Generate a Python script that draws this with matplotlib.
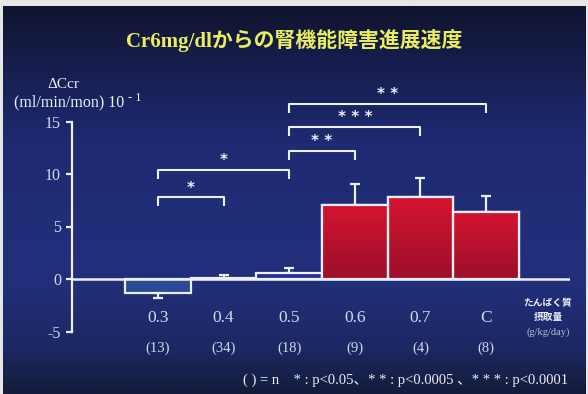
import matplotlib

matplotlib.use("Agg")
import matplotlib.pyplot as plt
import numpy as np
from matplotlib.colors import LinearSegmentedColormap

# protein intake groups (g/kg/day) and the change in Ccr per group
groups = ["0.3", "0.4", "0.5", "0.6", "0.7", "C"]
counts = ["(13)", "(34)", "(18)", "(9)", "(4)", "(8)"]
delta_ccr = [-1.35, 0.1, 0.55, 7.05, 7.8, 6.4]
sem = [0.5, 0.3, 0.5, 2.0, 1.8, 1.5]

# significance brackets: (left group, right group, height, stars)
bracket_left = [0, 0, 2, 2, 2]
bracket_right = [1, 2, 3, 4, 5]
bracket_height = [7.8, 10.4, 12.2, 14.5, 16.7]
bracket_stars = ["*", "*", "* *", "* * *", "* *"]

yticks = [15, 10, 5, 0, -5]

SERIF = ["Liberation Serif", "Noto Sans CJK JP"]
JP = ["Noto Sans CJK JP", "DejaVu Sans"]
WHITE = "#eef0f8"
SOFT = "#d4d8ec"

fig = plt.figure(figsize=(5.88, 3.94), dpi=100, facecolor="#e6e6e6")

# dark navy slide background
bg = fig.add_axes([3 / 588, 0, 583 / 588, 1 - 6 / 394])
bg_cmap = LinearSegmentedColormap.from_list(
    "slide",
    [(0.0, "#10142e"), (0.12, "#161c48"), (0.35, "#1e2a72"),
     (0.7, "#22307c"), (0.88, "#1c2864"), (1.0, "#141c3a")],
)
bg.imshow(np.linspace(0, 1, 256).reshape(-1, 1), cmap=bg_cmap, aspect="auto",
          extent=[0, 1, 0, 1], origin="upper")
bg.set_axis_off()

# main plot axes: zero at y=279px, 10.5 px per unit
x_lo, x_hi = -1.31, 6.28
y_lo, y_hi = -8.0, 19.0
ax = fig.add_axes([72 / 588, 1 - (279 - y_lo * 10.5) / 394,
                   (570 - 72) / 588, (y_hi - y_lo) * 10.5 / 394])
ax.patch.set_alpha(0)

x = np.arange(len(groups))
fills = ["#2c4898", "#23338a", "#23338a", "#c8142c", "#c8142c", "#c8142c"]
bars = ax.bar(x, delta_ccr, width=1.0, color=fills, edgecolor=WHITE,
              linewidth=1.6, zorder=3)

# red bars fade darker towards the baseline
red_cmap = LinearSegmentedColormap.from_list("bar", ["#9c0f2a", "#d51430"])
for bar, value in zip(bars, delta_ccr):
    if value < 3:
        continue
    x0 = bar.get_x()
    img = ax.imshow(np.linspace(0, 1, 128).reshape(-1, 1), cmap=red_cmap,
                    aspect="auto", origin="lower",
                    extent=[x0, x0 + bar.get_width(), 0, value], zorder=3.5)
    img.set_clip_path(bar)
    ax.bar(bar.get_x() + bar.get_width() / 2, value, width=1.0, fill=False,
           edgecolor=WHITE, linewidth=1.6, zorder=4)

# one-sided error bars away from zero
lower = [s if v < 0 else 0 for v, s in zip(delta_ccr, sem)]
upper = [0 if v < 0 else s for v, s in zip(delta_ccr, sem)]
ax.errorbar(x, delta_ccr, yerr=[lower, upper], fmt="none", ecolor=WHITE,
            elinewidth=1.6, capsize=3.5, capthick=1.6, zorder=2)

ax.axhline(0, color=WHITE, linewidth=1.8, zorder=5)

for i, j, h, stars in zip(bracket_left, bracket_right, bracket_height, bracket_stars):
    ax.plot([i, i, j, j], [h - 0.85, h, h, h - 0.85], color=WHITE,
            linewidth=1.5, solid_capstyle="butt", zorder=5)
    ax.text((i + j) / 2, h + 0.15, stars, color=WHITE, fontsize=11,
            ha="center", va="bottom", fontweight="bold")

ax.set_xlim(x_lo, x_hi)
ax.set_ylim(y_lo, y_hi)
for side in ("top", "right", "bottom"):
    ax.spines[side].set_visible(False)
ax.spines["left"].set_color(WHITE)
ax.spines["left"].set_linewidth(1.6)
ax.spines["left"].set_bounds(-5, 15)
ax.set_xticks([])
ax.set_yticks(yticks)
ax.set_yticklabels([str(t) for t in yticks], family=SERIF, fontsize=11.5,
                   color=SOFT)
ax.tick_params(axis="y", direction="out", length=4, width=1.6, color=WHITE,
               pad=4)

for xi, label, n in zip(x, groups, counts):
    ax.text(xi, -3.75, label, color=SOFT, fontsize=12.5, family=SERIF,
            ha="center", va="center")
    ax.text(xi, -6.6, n, color=SOFT, fontsize=10.5, family=SERIF,
            ha="center", va="center")

fig.text(294 / 588, 1 - 40 / 394, "Cr6mg/dlからの腎機能障害進展速度",
         color="#e8ee5e", fontsize=15, family=SERIF, fontweight="bold",
         ha="center", va="center")
fig.text(63 / 588, 1 - 85 / 394, "ΔCcr", color=WHITE, fontsize=11,
         family=SERIF, ha="center", va="center")
fig.text(14 / 588, 1 - 102 / 394, "(ml/min/mon) 10", color=WHITE, fontsize=11.5,
         family=SERIF, ha="left", va="center")
fig.text(128 / 588, 1 - 98 / 394, "- 1", color=WHITE, fontsize=9,
         family=SERIF, ha="left", va="center")

fig.text(548 / 588, 1 - 303 / 394, "たんぱく質", color=WHITE, fontsize=7,
         family=JP, fontweight="bold", ha="center", va="center")
fig.text(548 / 588, 1 - 317 / 394, "摂取量", color=WHITE, fontsize=7,
         family=JP, fontweight="bold", ha="center", va="center")
fig.text(548 / 588, 1 - 332 / 394, "(g/kg/day)", color="#b8bcd4", fontsize=7.5,
         family=SERIF, ha="center", va="center")

fig.text(568 / 588, 1 - 380 / 394,
         "( ) = n    * : p<0.05、* * : p<0.0005 、* * * : p<0.0001",
         color=WHITE, fontsize=10.5, family=SERIF, ha="right", va="center")

fig.savefig("out.png", dpi=100, facecolor=fig.get_facecolor())
